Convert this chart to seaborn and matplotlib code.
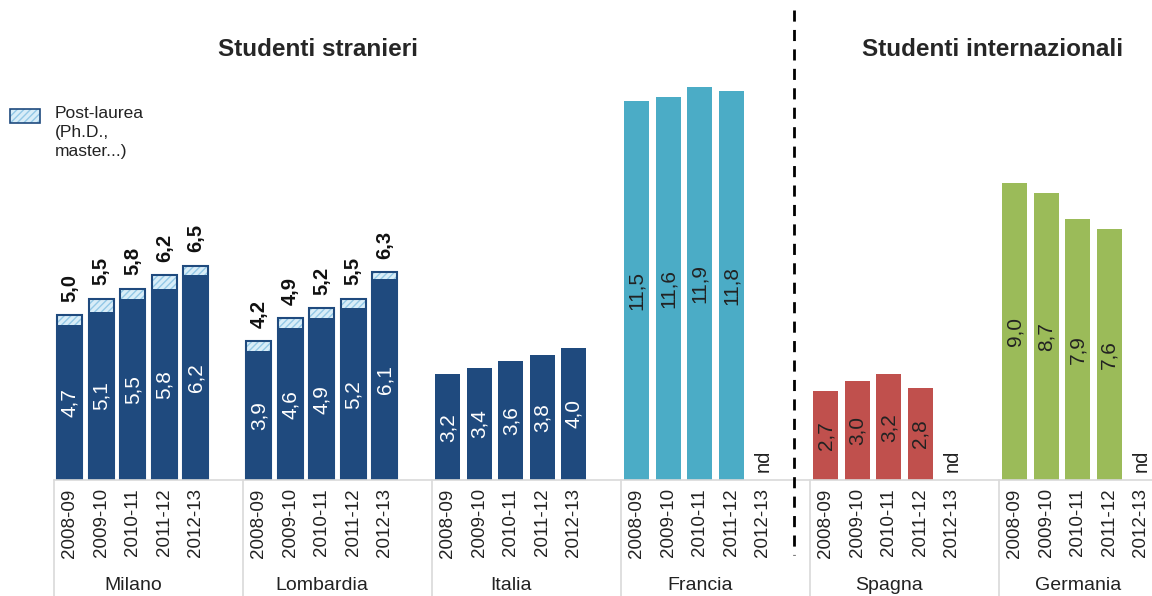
import numpy as np
import pandas as pd
import matplotlib
matplotlib.use("Agg")
import matplotlib.pyplot as plt
import seaborn as sns

# data
years = ["2008-09", "2009-10", "2010-11", "2011-12", "2012-13"]
countries = ["Milano", "Lombardia", "Italia", "Francia", "Spagna", "Germania"]
milano_base = [4.7, 5.1, 5.5, 5.8, 6.2]
milano_total = [5.0, 5.5, 5.8, 6.2, 6.5]
lombardia_base = [3.9, 4.6, 4.9, 5.2, 6.1]
lombardia_total = [4.2, 4.9, 5.2, 5.5, 6.3]
italia = [3.2, 3.4, 3.6, 3.8, 4.0]
francia = [11.5, 11.6, 11.9, 11.8, np.nan]
spagna = [2.7, 3.0, 3.2, 2.8, np.nan]
germania = [9.0, 8.7, 7.9, 7.6, np.nan]

dark = "#1f4a7e"
colors = {"Milano": dark, "Lombardia": dark, "Italia": dark,
          "Francia": "#4bacc6", "Spagna": "#c0504d", "Germania": "#9bbb59"}

rows = []
series = [milano_base, lombardia_base, italia, francia, spagna, germania]
totals = {"Milano": milano_total, "Lombardia": lombardia_total}
for g, (c, vals) in enumerate(zip(countries, series)):
    for i, (y, v) in enumerate(zip(years, vals)):
        tot = totals[c][i] if c in totals else np.nan
        rows.append({"pos": g * 6 + i, "country": c, "year": y, "value": v, "total": tot})
df = pd.DataFrame(rows)

sns.set_style("white")
plt.rcParams["font.family"] = ["Liberation Sans", "DejaVu Sans"]
plt.rcParams["hatch.linewidth"] = 1.0

fig = plt.figure(figsize=(11.52, 5.96), dpi=100)
ax = fig.add_axes([54 / 1152, 116 / 596, 1 - 54 / 1152, 480 / 596])

# post-laurea part: hatched total bars, base bars drawn on top
tot_df = df.dropna(subset=["total"])
sns.barplot(data=tot_df, x="pos", y="total", native_scale=True, width=0.8,
            color="#d8edf8", edgecolor="#93c8e6", linewidth=0, hatch="/////",
            saturation=1, ax=ax)
sns.barplot(data=tot_df, x="pos", y="total", native_scale=True, width=0.8,
            color=dark, fill=False, linewidth=1.5, saturation=1, ax=ax)
sns.barplot(data=df, x="pos", y="value", hue="country", palette=colors,
            native_scale=True, dodge=False, width=0.8, saturation=1,
            linewidth=0, legend=False, ax=ax)

ax.set_xlim(-0.5, -0.5 + 1098 / 31.5)
ax.set_ylim(0, 480 / 33)
for s in ax.spines.values():
    s.set_visible(False)
ax.set_yticks([])
ax.set_ylabel("")
ax.set_xlabel("")
ax.set_xticks(df["pos"])
ax.set_xticklabels(df["year"], rotation=90, fontsize=13.5, color="#222222")
ax.tick_params(axis="x", length=0, pad=6)

# value labels
for _, r in df.iterrows():
    if np.isnan(r["value"]):
        ax.text(r["pos"], 0.25, "nd", rotation=90, ha="center", va="bottom",
                fontsize=14.5, color="#222222")
        continue
    tc = "white" if colors[r["country"]] == dark else "#222222"
    ax.text(r["pos"], r["value"] / 2, f"{r['value']:.1f}".replace(".", ","),
            rotation=90, ha="center", va="center", fontsize=15, color=tc)
    if not np.isnan(r["total"]):
        ax.text(r["pos"], r["total"] + 0.4, f"{r['total']:.1f}".replace(".", ","),
                rotation=90, ha="center", va="bottom", fontsize=14.5,
                fontweight="bold", color="#111111")

# baseline and group separators
tr = ax.get_xaxis_transform()
ax.axhline(0, color="#d9d9d9", linewidth=1.2, clip_on=False)
for g in range(6):
    ax.plot([g * 6 - 0.5] * 2, [0, -0.25], color="#d9d9d9", linewidth=1.2,
            transform=tr, clip_on=False)
    ax.text(g * 6 + 2, -0.219, countries[g], transform=tr, ha="center",
            va="center", fontsize=14, color="#222222")

# divider between the two blocks
ax.plot([23, 23], [0.98, -0.157], transform=tr, color="black", linewidth=2,
        linestyle=(0, (4, 3)), clip_on=False)

fig.text(318 / 1152, 1 - 50 / 596, "Studenti stranieri", ha="center", va="center",
         fontsize=17.5, fontweight="bold")
fig.text(993 / 1152, 1 - 50 / 596, "Studenti internazionali", ha="center",
         va="center", fontsize=17.5, fontweight="bold")

# legend
ax.add_patch(plt.Rectangle((10 / 1152, 1 - 123 / 596), 30 / 1152, 14 / 596,
                           transform=fig.transFigure, facecolor="#d8edf8",
                           edgecolor="#93c8e6", linewidth=0, hatch="/////",
                           clip_on=False))
ax.add_patch(plt.Rectangle((10 / 1152, 1 - 123 / 596), 30 / 1152, 14 / 596,
                           transform=fig.transFigure, fill=False,
                           edgecolor=dark, linewidth=1.2, clip_on=False))
fig.text(55 / 1152, 1 - 106 / 596, "Post-laurea\n(Ph.D.,\nmaster...)",
         ha="left", va="top", fontsize=12.5, linespacing=1.35, color="#222222")

fig.savefig("out.png", dpi=100)
